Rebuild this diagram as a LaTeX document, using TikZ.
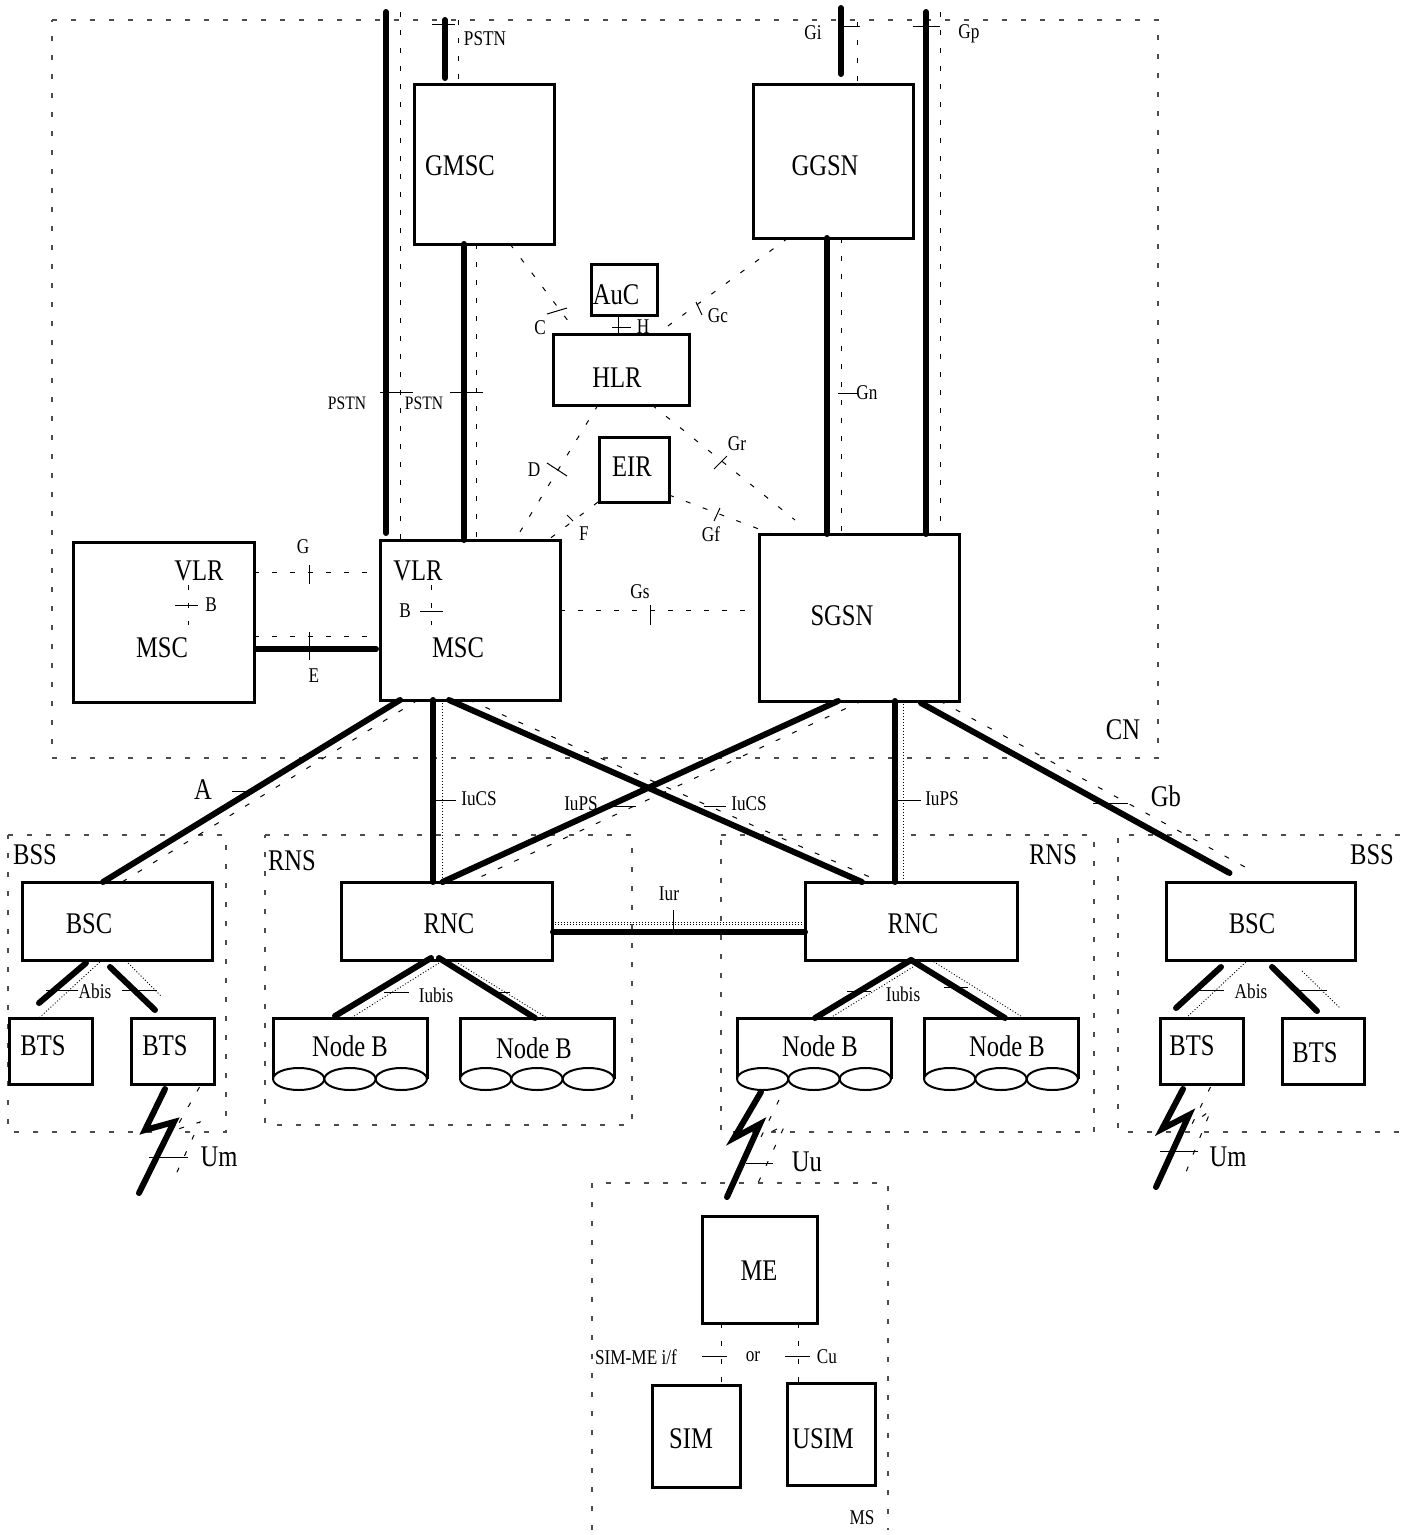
\documentclass[tikz,border=0pt]{standalone}
\usepackage{fontspec}
\setmainfont[FakeStretch=0.82]{Liberation Serif}
\tikzset{
    box/.style={draw, line width=3pt, inner sep=0pt, outer sep=0pt},
    biglabel/.style={inner sep=0pt, font=\fontsize{30}{30}\selectfont},
    smalllabel/.style={inner sep=0pt, font=\fontsize{21}{21}\selectfont},
    narrowlabel/.style={inner sep=0pt, font=\fontsize{19}{19}\selectfont},
    fatline/.style={line width=6pt, line cap=round, line join=miter},
    dashline/.style={line width=1pt, dash pattern=on 5pt off 13pt},
    dotline/.style={line width=.9pt, dash pattern=on 1pt off 2pt},
    tickline/.style={line width=1pt},
    region/.style={line width=1.1pt, gray!60!black, dash pattern=on 5pt off 14pt}
}

\begin{document}
\begin{tikzpicture}[x=1pt, y=-1pt]

    \useasboundingbox (0,0) rectangle (1410,1535);

    % regions
    \draw[region] (52,20) -- (1158,20) -- (1158,758) -- (52,758) -- cycle;
    \draw[region] (8,835) -- (226,835) -- (226,1132) -- (8,1132) -- cycle;
    \draw[region] (265,835) -- (632,835) -- (632,1125) -- (265,1125) -- cycle;
    \draw[region] (721,835) -- (1094,835) -- (1094,1132) -- (721,1132) -- cycle;
    \draw[region] (1400,835) -- (1118,835) -- (1118,1132) -- (1400,1132);
    \draw[region] (592,1530) -- (592,1183) -- (888,1183) -- (888,1530);

    % boxes
    \node[box, minimum width=140pt, minimum height=160pt] (gmsc) at (484,164) {};
    \node[box, minimum width=160pt, minimum height=154pt] (ggsn) at (833,161) {};
    \node[box, minimum width=66pt, minimum height=51pt] (auc) at (624,289.5) {};
    \node[box, minimum width=136pt, minimum height=71pt] (hlr) at (621,369.5) {};
    \node[box, minimum width=70pt, minimum height=65pt] (eir) at (634,469.5) {};
    \node[box, minimum width=181pt, minimum height=160pt] (mscl) at (163.5,622) {};
    \node[box, minimum width=180pt, minimum height=160pt] (mscm) at (470,620) {};
    \node[box, minimum width=200pt, minimum height=167pt] (sgsn) at (859,617.5) {};
    \node[box, minimum width=190pt, minimum height=78pt] (bscl) at (117,921) {};
    \node[box, minimum width=211pt, minimum height=78pt] (rncl) at (446.5,921) {};
    \node[box, minimum width=212pt, minimum height=78pt] (rncr) at (911,921) {};
    \node[box, minimum width=189pt, minimum height=78pt] (bscr) at (1260.5,921) {};
    \node[box, minimum width=83pt, minimum height=66pt] (btsa) at (50.5,1051) {};
    \node[box, minimum width=83pt, minimum height=66pt] (btsb) at (172.5,1051) {};
    \node[box, minimum width=83pt, minimum height=66pt] (btsc) at (1201.5,1051) {};
    \node[box, minimum width=82pt, minimum height=66pt] (btsd) at (1323,1051) {};
    \node[box, minimum width=115pt, minimum height=107pt] (me) at (759.5,1269.5) {};
    \node[box, minimum width=88pt, minimum height=102pt] (sim) at (696,1436) {};
    \node[box, minimum width=88pt, minimum height=102pt] (usim) at (831,1434) {};

    % node B units
    \foreach \nb/\cx in {nba/350, nbb/537, nbc/814, nbd/1001} {
        \node[minimum width=154pt, minimum height=61pt, inner sep=0pt, outer sep=0pt] (\nb) at (\cx,1048.5) {};
        \draw[line width=3pt] (\nb.south west) -- (\nb.north west) -- (\nb.north east) -- (\nb.south east);
        \draw[line width=2pt, fill=white] (\cx-51.3,1079) ellipse (25.6 and 11);
        \draw[line width=2pt, fill=white] (\cx,1079) ellipse (25.6 and 11);
        \draw[line width=2pt, fill=white] (\cx+51.3,1079) ellipse (25.6 and 11);
    }

    % free ends
    \coordinate (toppstn) at (386,12);
    \coordinate (toppstndash) at (400,12);
    \coordinate (topgmsc) at (445,20);
    \coordinate (topgmscdash) at (458,20);
    \coordinate (topgi) at (841,8);
    \coordinate (topgidash) at (857,22);
    \coordinate (topgp) at (926,12);
    \coordinate (topgpdash) at (940,12);
    \coordinate (vlrla) at (188,585);
    \coordinate (vlrlb) at (188,625);
    \coordinate (vlrma) at (431,585);
    \coordinate (vlrmb) at (431,625);
    \coordinate (umla) at (145,1130);
    \coordinate (umlb) at (174,1122);
    \coordinate (umlc) at (139,1193);
    \coordinate (umra) at (1162,1129);
    \coordinate (umrb) at (1189,1115);
    \coordinate (umrc) at (1156,1187);
    \coordinate (uua) at (734,1138);
    \coordinate (uub) at (760,1124);
    \coordinate (uuc) at (727,1197);
    \coordinate (umlda) at (175,1130);
    \coordinate (umldb) at (200,1122);
    \coordinate (umldc) at (172,1183);
    \coordinate (umrda) at (1192,1124);
    \coordinate (umrdb) at (1211,1110);
    \coordinate (umrdc) at (1184,1177);
    \coordinate (uuda) at (761,1137);
    \coordinate (uudb) at (785,1125);
    \coordinate (uudc) at (758,1183);

    % thick links
    \draw[fatline] (toppstn) -- ([xshift=-84pt,yshift=7pt]mscm.north);
    \draw[fatline] (topgmsc) -- ([xshift=-39pt,yshift=6pt]gmsc.north);
    \draw[fatline] (topgi) -- ([xshift=8pt,yshift=10pt]ggsn.north);
    \draw[fatline] (topgp) -- ([xshift=67pt]sgsn.north);
    \draw[fatline] ([xshift=-20pt]gmsc.south) -- ([xshift=-6pt]mscm.north);
    \draw[fatline] ([xshift=-6pt]ggsn.south) -- ([xshift=-32pt]sgsn.north);
    \draw[fatline] ([xshift=2pt,yshift=-27pt]mscl.east) -- ([xshift=-4pt,yshift=-29pt]mscm.west);
    \draw[fatline] ([xshift=-70pt]mscm.south) -- ([xshift=-14pt]bscl.north);
    \draw[fatline] ([xshift=-37pt]mscm.south) -- ([xshift=-13.5pt]rncl.north);
    \draw[fatline] ([xshift=-21pt]mscm.south) -- ([xshift=-49pt]rncr.north);
    \draw[fatline] ([xshift=-21pt]sgsn.south) -- ([xshift=-4pt]rncl.north);
    \draw[fatline] ([xshift=36pt]sgsn.south) -- ([xshift=-16pt]rncr.north);
    \draw[fatline] ([xshift=62pt,yshift=-2pt]sgsn.south) -- ([xshift=-31pt,yshift=9pt]bscr.north);
    \draw[fatline] ([xshift=1pt,yshift=-11pt]rncl.east) -- ([yshift=-11pt]rncr.west);
    \draw[fatline] ([xshift=-31pt,yshift=-3pt]bscl.south) -- ([xshift=-11.5pt,yshift=15pt]btsa.north);
    \draw[fatline] ([xshift=-7pt,yshift=-7pt]bscl.south) -- ([xshift=-17.5pt,yshift=8pt]btsb.north);
    \draw[fatline] ([xshift=-15.5pt,yshift=2pt]rncl.south) -- ([xshift=-15pt,yshift=2pt]nba.north);
    \draw[fatline] ([xshift=-7.5pt,yshift=2pt]rncl.south) -- ([xshift=-2pt]nbb.north);
    \draw[fatline] (rncr.south) -- ([xshift=1pt]nbc.north);
    \draw[fatline] (rncr.south) -- ([xshift=4pt]nbd.north);
    \draw[fatline] ([xshift=-39.5pt,yshift=-7pt]bscr.south) -- ([xshift=-25.5pt,yshift=10pt]btsc.north);
    \draw[fatline] ([xshift=11.5pt,yshift=-7pt]bscr.south) -- ([xshift=-6pt,yshift=7pt]btsd.north);
    \draw[fatline] ([xshift=-7.5pt,yshift=-5pt]btsb.south) -- (umla) -- (umlb) -- (umlc);
    \draw[fatline] ([xshift=-18.5pt,yshift=-5pt]btsc.south) -- (umra) -- (umrb) -- (umrc);
    \draw[fatline] ([xshift=-130pt,yshift=-13pt]nbc.south east) -- (uua) -- (uub) -- (uuc);

    % thin dashed links
    \draw[dashline] (toppstndash) -- ([xshift=-70pt]mscm.north);
    \draw[dashline] (topgmscdash) -- ([xshift=-26pt]gmsc.north);
    \draw[dashline] (topgidash) -- ([xshift=24pt]ggsn.north);
    \draw[dashline] (topgpdash) -- ([xshift=81pt]sgsn.north);
    \draw[dashline] ([xshift=-8pt]gmsc.south) -- ([xshift=6pt]mscm.north);
    \draw[dashline] ([xshift=8pt]ggsn.south) -- ([xshift=-18pt]sgsn.north);
    \draw[dashline] ([xshift=26pt]gmsc.south) -- ([xshift=-46pt,yshift=4pt]hlr.north);
    \draw[dashline] ([xshift=-45pt]ggsn.south) -- ([xshift=36pt]hlr.north);
    \draw[dashline] ([xshift=-23pt]hlr.south) -- ([xshift=45pt]mscm.north);
    \draw[dashline] ([xshift=31pt]hlr.south) -- ([xshift=-64pt,yshift=14pt]sgsn.north);
    \draw[dashline] ([xshift=-36pt]eir.south) -- ([xshift=78pt]mscm.north);
    \draw[dashline] ([yshift=-25.5pt]eir.east) -- ([xshift=-87pt]sgsn.north);
    \draw[dashline] ([yshift=50pt]mscl.east) -- ([yshift=48pt]mscm.west);
    \draw[dashline] ([yshift=-14pt]mscl.east) -- ([yshift=-16pt]mscm.west);
    \draw[dashline] ([yshift=10pt]mscm.east) -- ([yshift=7.5pt]sgsn.west);
    \draw[dashline] (vlrla) -- (vlrlb);
    \draw[dashline] (vlrma) -- (vlrmb);
    \draw[dashline] ([xshift=-52pt]mscm.south) -- ([xshift=5pt]bscl.north);
    \draw[dashline] ([xshift=-1pt]mscm.south) -- ([xshift=-30pt]rncr.north);
    \draw[dashline] ([xshift=3pt]sgsn.south) -- ([xshift=23pt]rncl.north);
    \draw[dashline] ([xshift=81pt]sgsn.south) -- ([xshift=-10pt,yshift=12pt]bscr.north);
    \draw[dashline] ([xshift=27pt,yshift=-3pt]btsb.south) -- (umlda) -- (umldb) -- (umldc);
    \draw[dashline] ([xshift=9pt,yshift=-3pt]btsc.south) -- (umrda) -- (umrdb) -- (umrdc);
    \draw[dashline] ([xshift=-112pt,yshift=-21pt]nbc.south east) -- (uuda) -- (uudb) -- (uudc);
    \draw[dashline] ([xshift=-38.5pt]me.south) -- ([xshift=25pt]sim.north);
    \draw[dashline] ([xshift=38.5pt]me.south) -- ([xshift=-33pt]usim.north);

    % dotted links
    \draw[dotline] ([xshift=-28pt]mscm.south) -- ([xshift=-4.5pt]rncl.north);
    \draw[dotline] ([xshift=44pt]sgsn.south) -- ([xshift=-8pt]rncr.north);
    \draw[dotline] ([yshift=-1pt]rncl.east) -- ([yshift=-1pt]rncr.west);
    \draw[dotline] ([yshift=-3pt]rncl.east) -- ([yshift=-3pt]rncr.west);
    \draw[dotline] ([xshift=-15pt]bscl.south) -- ([xshift=-11.5pt]btsa.north);
    \draw[dotline] ([xshift=11pt,yshift=-3pt]bscl.south) -- ([xshift=-11.5pt,yshift=22pt]btsb.north);
    \draw[dotline] ([xshift=-7.5pt,yshift=-3pt]rncl.south) -- ([xshift=1pt]nba.north);
    \draw[dotline] ([xshift=6.5pt]rncl.south) -- ([xshift=10pt]nbb.north);
    \draw[dotline] ([xshift=2pt,yshift=-7pt]rncr.south) -- ([xshift=16pt]nbc.north);
    \draw[dotline] ([xshift=20pt]rncr.south) -- ([xshift=23pt]nbd.north);
    \draw[dotline] ([xshift=-12.5pt]bscr.south) -- ([xshift=-15.5pt]btsc.north);
    \draw[dotline] ([xshift=41.5pt,yshift=-11pt]bscr.south) -- ([xshift=17pt,yshift=10pt]btsd.north);

    \draw[tickline] ([xshift=-6pt]auc.south) -- ([xshift=-3pt]hlr.north);

    % ticks
    \draw[tickline] (432,24) -- (455,24);
    \draw[tickline] (838,26) -- (860,26);
    \draw[tickline] (913,26) -- (940,26);
    \draw[tickline] (380,392) -- (413,392);
    \draw[tickline] (450,392) -- (483,392);
    \draw[tickline] (838,393) -- (858,393);
    \draw[tickline] (547,314) -- (567,308);
    \draw[tickline] (612,327) -- (631,327);
    \draw[tickline] (696,302) -- (702,315);
    \draw[tickline] (547,463) -- (567,476);
    \draw[tickline] (714,469) -- (727,456);
    \draw[tickline] (567,515) -- (573,521);
    \draw[tickline] (720,508) -- (714,521);
    \draw[tickline] (309,565) -- (309,584);
    \draw[tickline] (309,632) -- (309,660);
    \draw[tickline] (650,605) -- (650,625);
    \draw[tickline] (175,605) -- (198,605);
    \draw[tickline] (420,611) -- (443,611);
    \draw[tickline] (232,791) -- (248,791);
    \draw[tickline] (435,800) -- (456,800);
    \draw[tickline] (610,806) -- (636,806);
    \draw[tickline] (704,806) -- (726,806);
    \draw[tickline] (898,800) -- (921,800);
    \draw[tickline] (1093,803) -- (1128,803);
    \draw[tickline] (673,910) -- (673,932);
    \draw[tickline] (46,990) -- (78,990);
    \draw[tickline] (122,990) -- (157,990);
    \draw[tickline] (384,992) -- (409,992);
    \draw[tickline] (496,992) -- (510,992);
    \draw[tickline] (847,991) -- (871,991);
    \draw[tickline] (944,987) -- (968,987);
    \draw[tickline] (1199,990) -- (1224,990);
    \draw[tickline] (1300,990) -- (1327,990);
    \draw[tickline] (149,1157) -- (188,1157);
    \draw[tickline] (746,1163) -- (773,1163);
    \draw[tickline] (1160,1151) -- (1198,1151);
    \draw[tickline] (702,1356) -- (727,1356);
    \draw[tickline] (785,1356) -- (810,1356);

    % names in boxes
    \node[biglabel] (lgmsc) at (460,166) {GMSC};
    \node[biglabel] (lggsn) at (825,166) {GGSN};
    \node[biglabel] (lauc) at (616,295) {AuC};
    \node[biglabel] (lhlr) at (617,378) {HLR};
    \node[biglabel] (leir) at (632,467) {EIR};
    \node[biglabel] (lvlrl) at (199,571) {VLR};
    \node[biglabel] (lmscl) at (162,648) {MSC};
    \node[biglabel] (lvlrm) at (418,571) {VLR};
    \node[biglabel] (lmscm) at (458,648) {MSC};
    \node[biglabel] (lsgsn) at (842,616) {SGSN};
    \node[biglabel] (lbscl) at (89,924) {BSC};
    \node[biglabel] (lrncl) at (449,924) {RNC};
    \node[biglabel] (lrncr) at (913,924) {RNC};
    \node[biglabel] (lbscr) at (1252,924) {BSC};
    \node[biglabel] (lbtsa) at (43,1046) {BTS};
    \node[biglabel] (lbtsb) at (165,1046) {BTS};
    \node[biglabel] (lbtsc) at (1192,1046) {BTS};
    \node[biglabel] (lbtsd) at (1315,1053) {BTS};
    \node[biglabel] (lnba) at (350,1046) {Node B};
    \node[biglabel] (lnbb) at (534,1048) {Node B};
    \node[biglabel] (lnbc) at (820,1046) {Node B};
    \node[biglabel] (lnbd) at (1007,1046) {Node B};
    \node[biglabel] (lme) at (759,1271) {ME};
    \node[biglabel] (lsim) at (691,1439) {SIM};
    \node[biglabel] (lusim) at (823,1439) {USIM};

    % region names and large interface names
    \node[biglabel] (lcn) at (1123,730) {CN};
    \node[biglabel] (lbssl) at (35,855) {BSS};
    \node[biglabel] (lrnsl) at (292,861) {RNS};
    \node[biglabel] (lrnsr) at (1053,855) {RNS};
    \node[biglabel] (lbssr) at (1372,855) {BSS};
    \node[biglabel] (la) at (203,790) {A};
    \node[biglabel] (lgb) at (1166,796) {Gb};
    \node[biglabel] (luml) at (219,1157) {Um};
    \node[biglabel] (luu) at (807,1162) {Uu};
    \node[biglabel] (lumr) at (1228,1157) {Um};

    % small interface names
    \node[smalllabel] (lpstna) at (485,39) {PSTN};
    \node[smalllabel] (lgi) at (813,33) {Gi};
    \node[smalllabel] (lgp) at (969,34) {Gp};
    \node[smalllabel] (lh) at (643,327) {H};
    \node[smalllabel] (lc) at (540,328) {C};
    \node[smalllabel] (lgc) at (718,316) {Gc};
    \node[narrowlabel] (lpstnb) at (347,403) {PSTN};
    \node[narrowlabel] (lpstnc) at (424,403) {PSTN};
    \node[smalllabel] (lgn) at (867,393) {Gn};
    \node[smalllabel] (ld) at (534,470) {D};
    \node[smalllabel] (lf) at (584,534) {F};
    \node[smalllabel] (lgr) at (737,444) {Gr};
    \node[smalllabel] (lgf) at (711,534) {Gf};
    \node[smalllabel] (lg) at (303,547) {G};
    \node[smalllabel] (le) at (314,676) {E};
    \node[smalllabel] (lbl) at (211,605) {B};
    \node[smalllabel] (lbm) at (405,611) {B};
    \node[smalllabel] (lgs) at (640,592) {Gs};
    \node[smalllabel] (liucsa) at (479,799) {IuCS};
    \node[smalllabel] (liupsa) at (581,804) {IuPS};
    \node[smalllabel] (liucsb) at (749,804) {IuCS};
    \node[smalllabel] (liupsb) at (942,799) {IuPS};
    \node[smalllabel] (liur) at (669,894) {Iur};
    \node[smalllabel] (labisa) at (95,991) {Abis};
    \node[smalllabel] (liubisa) at (436,995) {Iubis};
    \node[smalllabel] (liubisb) at (903,994) {Iubis};
    \node[smalllabel] (labisb) at (1251,991) {Abis};
    \node[smalllabel] (lsimme) at (636,1357) {SIM-ME i/f};
    \node[smalllabel] (lor) at (753,1357) {or};
    \node[smalllabel] (lcu) at (827,1357) {Cu};
    \node[smalllabel] (lms) at (862,1518) {MS};
\end{tikzpicture}
\end{document}
